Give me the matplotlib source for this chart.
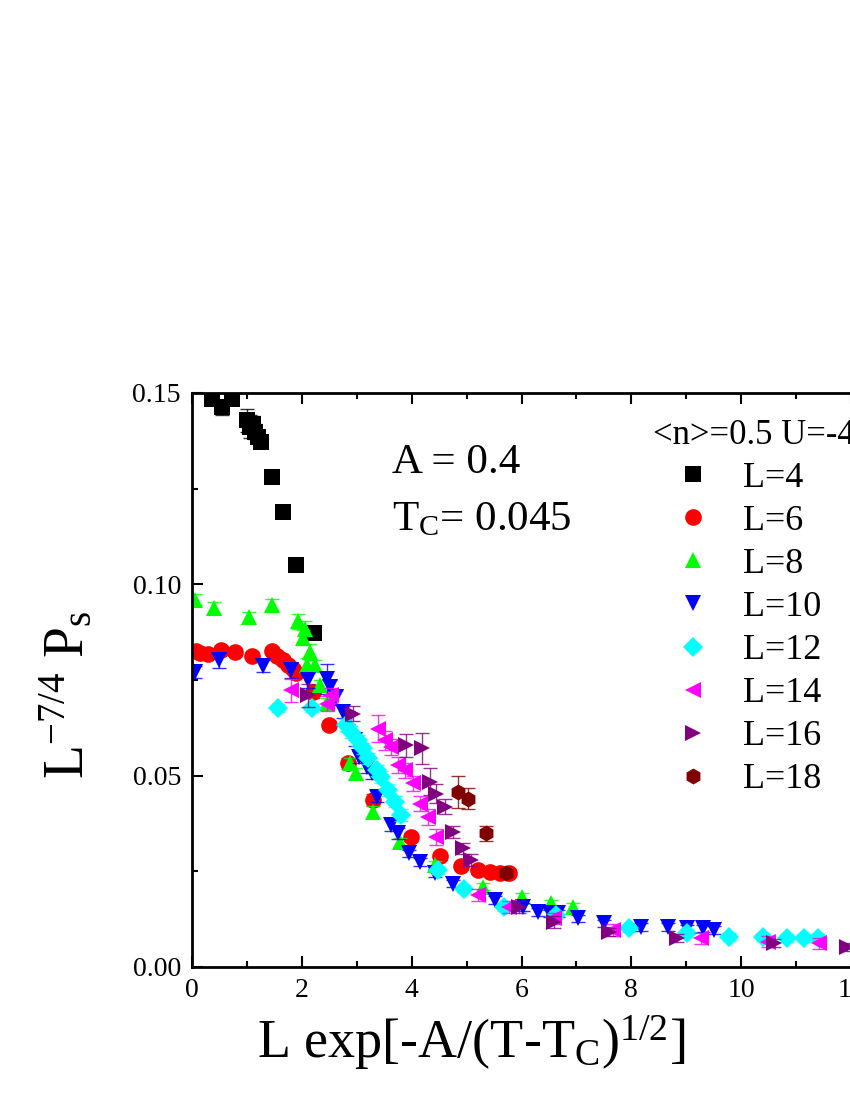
import numpy as np
import matplotlib
matplotlib.use('Agg')
import matplotlib.pyplot as plt
from matplotlib.ticker import MultipleLocator, FormatStrFormatter

plt.rcParams['font.family'] = ['Liberation Serif', 'DejaVu Serif']
plt.rcParams['mathtext.fontset'] = 'custom'
plt.rcParams['mathtext.rm'] = 'Liberation Serif'
plt.rcParams['mathtext.it'] = 'Liberation Serif:italic'

# scaled data, one set per lattice size L
x_L4 = [0.36, 0.54, 0.73, 1.0, 1.06, 1.11, 1.15, 1.2, 1.25, 1.45, 1.66, 1.9, 2.22]
y_L4 = [0.1484, 0.1463, 0.1484, 0.1429, 0.1412, 0.1419, 0.1399, 0.1385, 0.1373,
        0.128, 0.119, 0.1051, 0.0872]
e_L4 = [0.001, 0.002, 0.001, 0.003, 0.003, 0.002, 0.002, 0.001, 0.001, 0.001,
        0.001, 0.001, 0.001]

x_L6 = [0.07, 0.15, 0.3, 0.52, 0.78, 1.09, 1.45, 1.55, 1.65, 1.75, 1.84, 1.9, 2.2,
        2.5, 2.84, 3.3, 3.98, 4.51, 4.9, 5.21, 5.42, 5.6, 5.78]
y_L6 = [0.0826, 0.0820, 0.0817, 0.0829, 0.0823, 0.0814, 0.0827, 0.0814, 0.0801,
        0.0788, 0.0780, 0.0767, 0.0719, 0.0632, 0.0532, 0.0436, 0.0340, 0.0290,
        0.0264, 0.0253, 0.0249, 0.0245, 0.0245]
e_L6 = [0.001] * 12 + [0.0015, 0.001, 0.0015, 0.0015, 0.001, 0.001, 0.001, 0.001,
                       0.001, 0.001, 0.001]

x_L8 = [0.05, 0.4, 1.04, 1.46, 1.93, 2.02, 2.05, 2.09, 2.15, 2.24, 2.33, 2.45, 2.87,
        2.99, 3.3, 3.78, 4.42, 5.3, 6.0, 6.54, 6.93]
y_L8 = [0.0960, 0.0938, 0.0914, 0.0947, 0.0903, 0.0861, 0.0884, 0.0788, 0.0823,
        0.0788, 0.0736, 0.0689, 0.0532, 0.0506, 0.0405, 0.0327, 0.0266, 0.0210,
        0.0183, 0.0166, 0.0157]
e_L8 = [0.0015, 0.0015, 0.0015, 0.0015, 0.002, 0.002, 0.002, 0.002, 0.002, 0.0015,
        0.0015, 0.0015, 0.0015, 0.0015, 0.0015, 0.001, 0.001, 0.001, 0.001, 0.001,
        0.001]

x_L10 = [0.05, 0.5, 1.3, 1.81, 2.12, 2.45, 2.51, 2.63, 2.75, 2.84, 2.96, 3.05, 3.18,
         3.27, 3.36, 3.63, 3.75, 3.96, 4.15, 4.42, 4.75, 5.51, 6.02, 6.3, 6.51, 6.66,
         7.02, 7.51, 8.18, 8.66, 9.02, 9.3, 9.51]
y_L10 = [0.0771, 0.0801, 0.0786, 0.0775, 0.0749, 0.0753, 0.0731, 0.0705, 0.0666,
         0.0649, 0.0592, 0.0549, 0.0523, 0.0506, 0.0445, 0.0371, 0.0349, 0.0297,
         0.0275, 0.0245, 0.0218, 0.0175, 0.0157, 0.0144, 0.0140, 0.0140, 0.0127,
         0.0114, 0.0105, 0.0105, 0.0101, 0.0101, 0.0097]
e_L10 = [0.0015, 0.002, 0.0015, 0.002, 0.002, 0.004, 0.002, 0.002, 0.0015, 0.0015,
         0.0015, 0.0015, 0.0015, 0.0015, 0.0015, 0.0015, 0.0015, 0.001, 0.001, 0.001,
         0.001, 0.001, 0.001, 0.001, 0.001, 0.001, 0.001, 0.001, 0.001, 0.001, 0.001,
         0.001, 0.001]

x_L12 = [1.56, 2.18, 2.81, 2.90, 3.02, 3.12, 3.21, 3.36, 3.45, 3.57, 3.69, 3.81,
         4.48, 4.96, 5.69, 6.63, 7.96, 9.02, 9.78, 10.39, 10.84, 11.15, 11.39]
y_L12 = [0.0677, 0.0677, 0.0632, 0.0614, 0.0592, 0.0571, 0.0545, 0.0514, 0.0497,
         0.0462, 0.0432, 0.0397, 0.0253, 0.0203, 0.0157, 0.0136, 0.0101, 0.0088,
         0.0079, 0.0079, 0.0075, 0.0075, 0.0075]
e_L12 = [0.001, 0.001, 0.0015, 0.0015, 0.0015, 0.0015, 0.0015, 0.0015, 0.0015,
         0.0015, 0.0015, 0.0015, 0.001, 0.001, 0.001, 0.001, 0.001, 0.001, 0.001,
         0.001, 0.001, 0.001, 0.001]

x_L14 = [1.81, 2.45, 2.54, 3.39, 3.51, 3.63, 3.75, 3.87, 4.02, 4.15, 4.3, 4.45,
         5.21, 5.78, 6.6, 7.66, 9.27, 10.48, 11.42]
y_L14 = [0.0723, 0.0688, 0.0710, 0.0623, 0.0592, 0.0575, 0.0528, 0.0514, 0.0480,
         0.0427, 0.0392, 0.0340, 0.0188, 0.0157, 0.0127, 0.0097, 0.0075, 0.0066,
         0.0062]
e_L14 = [0.003, 0.002, 0.002, 0.0035, 0.0025, 0.002, 0.002, 0.002, 0.002, 0.002,
         0.002, 0.002, 0.0015, 0.0015, 0.0015, 0.0015, 0.0015, 0.0015, 0.0015]

x_L16 = [2.12, 2.93, 3.90, 4.18, 4.33, 4.45, 4.6, 4.75, 4.93, 5.08, 5.96, 6.6, 7.6,
         8.84, 10.6, 11.93]
y_L16 = [0.0710, 0.0662, 0.0580, 0.0571, 0.0484, 0.0453, 0.0419, 0.0353, 0.0310,
         0.0279, 0.0157, 0.0118, 0.0092, 0.0075, 0.0062, 0.0053]
e_L16 = [0.003, 0.002, 0.003, 0.004, 0.0035, 0.0025, 0.002, 0.0015, 0.0015, 0.0015,
         0.0015, 0.0015, 0.001, 0.001, 0.001, 0.001]

x_L18 = [4.84, 5.03, 5.36, 5.72]
y_L18 = [0.0458, 0.0440, 0.0349, 0.0245]
e_L18 = [0.0042, 0.0028, 0.002, 0.001]

labels = ['L=4', 'L=6', 'L=8', 'L=10', 'L=12', 'L=14', 'L=16', 'L=18']
colors = ['#000000', '#ff0000', '#00ff00', '#0000ff', '#00ffff', '#ff00ff',
          '#800080', '#800000']
markers = ['s', 'o', '^', 'v', 'D', '<', '>', 'h']
msizes = [11, 12, 12, 12, 10, 12, 12, 11.5]

series = [(x_L4, y_L4, e_L4), (x_L6, y_L6, e_L6), (x_L8, y_L8, e_L8),
          (x_L10, y_L10, e_L10), (x_L12, y_L12, e_L12), (x_L14, y_L14, e_L14),
          (x_L16, y_L16, e_L16), (x_L18, y_L18, e_L18)]

fig = plt.figure(figsize=(8.5, 11), dpi=100)
ax = fig.add_axes([192 / 850, 133 / 1100, 659 / 850, 574 / 1100])

handles = []
for (xs, ys, es), lab, c, m, s in zip(series, labels, colors, markers, msizes):
    ax.errorbar(xs, ys, yerr=es, fmt='none', ecolor=c, elinewidth=1.0,
                capsize=5, capthick=1.0, alpha=0.8)
    h, = ax.plot(xs, ys, linestyle='none', marker=m, color=c, ms=s,
                 markeredgewidth=0, label=lab)
    handles.append(h)

ax.set_xlim(0, 12)
ax.set_ylim(0, 0.15)
ax.xaxis.set_major_locator(MultipleLocator(2))
ax.xaxis.set_minor_locator(MultipleLocator(1))
ax.yaxis.set_major_locator(MultipleLocator(0.05))
ax.yaxis.set_minor_locator(MultipleLocator(0.025))
ax.yaxis.set_major_formatter(FormatStrFormatter('%.2f'))
ax.tick_params(which='both', direction='in', top=True, right=False, width=1.5)
ax.tick_params(which='major', length=8, labelsize=20, pad=8)
ax.tick_params(which='minor', length=4.5)
for sp in ax.spines.values():
    sp.set_linewidth(2)

ax.set_xlabel(r'L exp[-A/(T-T$_\mathrm{C}$)$^{\mathrm{1/2}}$]', fontsize=39)
ax.xaxis.set_label_coords(0.423, -0.08)
ax.set_ylabel(r'L$^{\mathrm{-7/4}}$ P$_\mathrm{s}$', fontsize=40)
ax.yaxis.set_label_coords(-0.147, 0.474)

fig.text(392 / 850, 1 - 473 / 1100, 'A = 0.4', fontsize=31, va='baseline')
fig.text(392 / 850, 1 - 530 / 1100, r'T$_\mathrm{C}$= 0.045', fontsize=31,
         va='baseline')

# legend title runs past the right edge, as in the original
ax.legend(handles=handles, title='<n>=0.5 U=-4', loc='upper left',
          bbox_to_anchor=(653 / 850, 1 - 419 / 1100), bbox_transform=fig.transFigure,
          frameon=False, fontsize=26, title_fontsize=25, alignment='left',
          handlelength=2.2, handletextpad=0.3, labelspacing=0.27, borderpad=0,
          borderaxespad=0, markerscale=1.0)

fig.savefig('out.png', dpi=100)
